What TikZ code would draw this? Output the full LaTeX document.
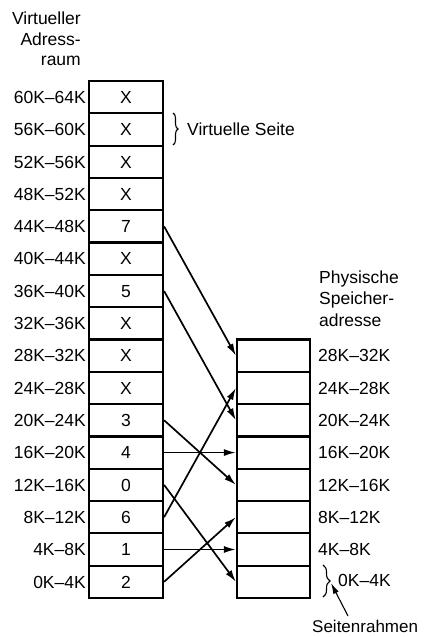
\documentclass[tikz,border=0pt]{standalone}
\usepackage{fontspec}
\setmainfont{Liberation Sans}
\usetikzlibrary{arrows.meta,decorations.pathreplacing}
\begin{document}
\begin{tikzpicture}[x=1pt,y=-1pt,
  txt/.style={font=\fontsize{17.5}{21}\selectfont, inner sep=0pt, text height=12.5pt, text depth=0pt},
  cell/.style={txt, draw, line width=2.2pt, minimum width=74pt, minimum height=32.31pt},
  pcell/.style={cell, minimum width=73pt},
  map/.style={line width=1.7pt, -{Latex[length=12pt,width=7pt]}},
  bracestyle/.style={decorate, line width=1.1pt},
]
\useasboundingbox (0,0) rectangle (426,637);
% virtual address space
\foreach \k/\c in {0/2,1/1,2/6,3/0,4/4,5/3,6/X,7/X,8/X,9/5,10/X,11/7,12/X,13/X,14/X,15/X} {
  \pgfmathsetmacro\yy{81+(15.5-\k)*32.31}
  \pgfmathtruncatemacro\lo{4*\k}
  \pgfmathtruncatemacro\hi{4*\k+4}
  \node[cell] (vr\k) at (126,\yy) {\c};
  \node[txt, anchor=east] (vl\k) at (86,\yy) {\lo K--\hi K};
}
% physical memory
\foreach \j in {0,...,7} {
  \pgfmathsetmacro\yy{81+(15.5-\j)*32.31}
  \node[pcell] (pf\j) at (273.5,\yy) {};
}
\foreach \j in {1,...,7} {
  \pgfmathsetmacro\yy{81+(15.5-\j)*32.31}
  \pgfmathtruncatemacro\lo{4*\j}
  \pgfmathtruncatemacro\hi{4*\j+4}
  \node[txt, anchor=west] (pl\j) at (318,\yy) {\lo K--\hi K};
}
\node[txt, anchor=west] (pl0) at (338,580.7) {0K--4K};
% headers
\node[txt, anchor=base east] (h1) at (81,24) {Virtueller};
\node[txt, anchor=base east] (h2) at (81,45) {Adress-};
\node[txt, anchor=base east] (h3) at (81,65.5) {raum};
\node[txt, anchor=base west] (q1) at (319,283) {Physische};
\node[txt, anchor=base west] (q2) at (319,304.5) {Speicher-};
\node[txt, anchor=base west] (q3) at (319,326) {adresse};
% virtual page brace
\coordinate (b1a) at (173,113);
\coordinate (b1b) at (173,145);
\draw[bracestyle, decoration={brace, amplitude=5pt}] (b1a) -- (b1b);
\node[txt, anchor=west] (vs) at (187,129.5) {Virtuelle Seite};
% page frame brace
\coordinate (b2a) at (323,565);
\coordinate (b2b) at (323,597);
\draw[bracestyle, decoration={brace, amplitude=7pt}] (b2a) -- (b2b);
\node[txt, anchor=base west, font=\fontsize{17}{20}\selectfont] (sr) at (312,632) {Seitenrahmen};
\coordinate (srstart) at (348,616);
\coordinate (brtip) at (331,583);
\draw[line width=1.1pt, -{Latex[length=11pt,width=6pt]}] (srstart) -- (brtip);
% mappings
\draw[map] (vr11.east) -- (pf7.west);
\draw[map] (vr9.east) -- (pf5.west);
\draw[map] (vr5.east) -- (pf3.west);
\draw[map] (vr4.east) -- (pf4.west);
\draw[map] (vr3.east) -- (pf0.west);
\draw[map] (vr2.east) -- (pf6.west);
\draw[map] (vr1.east) -- (pf1.west);
\draw[map] (vr0.east) -- (pf2.west);
\end{tikzpicture}
\end{document}
